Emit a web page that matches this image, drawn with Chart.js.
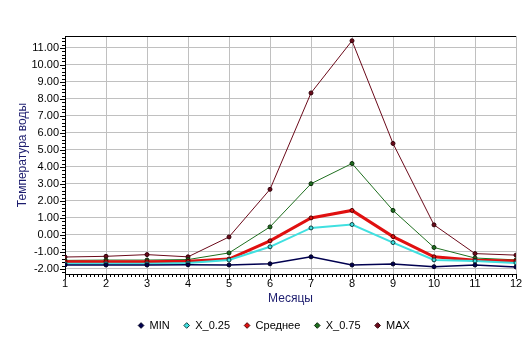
<!DOCTYPE html>
<html>
<head>
<meta charset="utf-8">
<script src="https://cdn.jsdelivr.net/npm/chart.js@4/dist/chart.umd.min.js"></script>
<style>
  html, body { margin: 0; padding: 0; background: #ffffff; }
  canvas { display: block; }
</style>
</head>
<body>
<canvas id="c" width="532" height="347"></canvas>
<script>
// Months of the year
const months = [1, 2, 3, 4, 5, 6, 7, 8, 9, 10, 11, 12];

// Water temperature statistics per month
const minValues  = [-1.77, -1.77, -1.77, -1.76, -1.77, -1.70, -1.29, -1.77, -1.71, -1.87, -1.77, -1.89];
const q25Values  = [-1.70, -1.70, -1.70, -1.66, -1.48, -0.70, 0.41, 0.61, -0.45, -1.47, -1.54, -1.65];
const meanValues = [-1.58, -1.58, -1.58, -1.55, -1.42, -0.35, 1.00, 1.44, -0.10, -1.29, -1.49, -1.54];
const q75Values  = [-1.50, -1.48, -1.48, -1.45, -1.06, 0.47, 3.01, 4.20, 1.44, -0.74, -1.36, -1.47];
const maxValues  = [-1.30, -1.26, -1.16, -1.29, -0.12, 2.68, 8.35, 11.42, 5.38, 0.59, -1.10, -1.19];

// Axis tick values
const yTickValues = [-2, -1, 0, 1, 2, 3, 4, 5, 6, 7, 8, 9, 10, 11];
const xTickValues = months;

const toPoints = vals => months.map((m, i) => ({ x: m, y: vals[i] }));

function series(label, vals, color, width, edge) {
  return {
    label: label,
    data: toPoints(vals),
    borderColor: color,
    backgroundColor: color,
    borderWidth: width,
    pointRadius: 2,
    pointBorderWidth: 1,
    pointBorderColor: edge,
    pointBackgroundColor: color,
    tension: 0
  };
}

// Axis decorations: top frame line and minor tick marks
const axisDecor = {
  id: 'axisDecor',
  afterDraw(chart) {
    const { ctx, chartArea: a, scales: { x, y } } = chart;
    ctx.save();
    ctx.strokeStyle = '#000000';
    ctx.lineWidth = 1;
    ctx.beginPath();
    ctx.moveTo(a.left, a.top + 0.5);
    ctx.lineTo(a.right, a.top + 0.5);
    // y minor ticks
    for (let k = Math.ceil(y.min * 5); k <= Math.floor(y.max * 5); k++) {
      const py = Math.round(y.getPixelForValue(k / 5)) + 0.5;
      const len = (k % 5 === 0) ? 5 : 3;
      ctx.moveTo(a.left - len, py);
      ctx.lineTo(a.left, py);
    }
    // x minor ticks
    for (let k = 10; k <= 120; k++) {
      const px = Math.round(x.getPixelForValue(k / 10)) + 0.5;
      const len = (k % 10 === 0) ? 5 : 3;
      ctx.moveTo(px, a.bottom);
      ctx.lineTo(px, a.bottom + len);
    }
    ctx.stroke();
    ctx.restore();
  }
};

// Nudge the legend row to the right, under the plot's centre
const legendShift = {
  id: 'legendShift',
  afterLayout(chart) {
    if (chart.legend) {
      chart.legend.left += 16;
      chart.legend.right += 16;
    }
  }
};

const tickFont = { family: "'Liberation Sans', Arial, sans-serif", size: 11 };
const titleFont = { family: "'Liberation Sans', Arial, sans-serif", size: 12 };

new Chart(document.getElementById('c'), {
  type: 'line',
  data: {
    datasets: [
      series('MIN', minValues, '#000050', 1.5, '#000020'),
      series('X_0.25', q25Values, '#40e0e0', 2, '#104040'),
      series('Среднее', meanValues, '#e01010', 3, '#500000'),
      series('X_0.75', q75Values, '#1f6f1f', 1, '#0a2a0a'),
      series('MAX', maxValues, '#6b0a1a', 1, '#300008')
    ]
  },
  plugins: [axisDecor, legendShift],
  options: {
    responsive: false,
    animation: false,
    devicePixelRatio: 1,
    layout: { padding: { top: 36, right: 16, bottom: 6, left: 0 } },
    plugins: {
      tooltip: { enabled: false },
      legend: {
        position: 'bottom',
        labels: {
          usePointStyle: true,
          pointStyle: 'rectRot',
          boxHeight: 4,
          boxWidth: 6,
          padding: 14,
          color: '#000000',
          font: tickFont,
          generateLabels(chart) {
            const items = Chart.defaults.plugins.legend.labels.generateLabels(chart);
            items.forEach(it => {
              const ds = chart.data.datasets[it.datasetIndex];
              it.lineWidth = 1;
              it.strokeStyle = ds.pointBorderColor;
              it.fillStyle = ds.borderColor;
            });
            return items;
          }
        }
      }
    },
    scales: {
      x: {
        type: 'linear',
        min: 1,
        max: 12,
        afterBuildTicks(scale) { scale.ticks = xTickValues.map(v => ({ value: v })); },
        afterFit(scale) { scale.height = 32; },
        ticks: { color: '#000000', font: tickFont, padding: 3, callback: v => String(v) },
        grid: { color: '#c0c0c0', lineWidth: 1, drawTicks: false },
        border: { color: '#000000', width: 1 },
        title: { display: true, text: 'Месяцы', color: '#1c1c6e', font: titleFont, padding: { top: 0, bottom: 0 } }
      },
      y: {
        type: 'linear',
        min: -2.3,
        max: 11.7,
        afterBuildTicks(scale) { scale.ticks = yTickValues.map(v => ({ value: v })); },
        afterFit(scale) { scale.width = 65; },
        ticks: { color: '#000000', font: tickFont, padding: 6, callback: v => Number(v).toFixed(2) },
        grid: { color: '#c0c0c0', lineWidth: 1, drawTicks: false },
        border: { color: '#000000', width: 1 },
        title: { display: true, text: 'Температура воды', color: '#1c1c6e', font: titleFont, padding: { top: 15, bottom: 0 } }
      }
    }
  }
});
</script>
</body>
</html>
